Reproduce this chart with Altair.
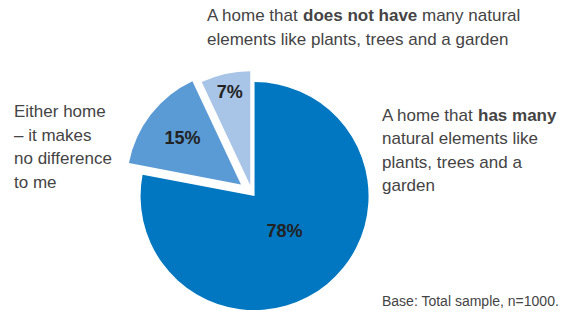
import math
import altair as alt
import pandas as pd

# ---- data ----
categories = [
    "A home that has many natural elements like plants, trees and a garden",
    "Either home – it makes no difference to me",
    "A home that does not have many natural elements like plants, trees and a garden",
]
shares = [78, 15, 7]
pct_labels = ["78%", "15%", "7%"]

# ---- styles ----
colors = ["#0077C0", "#5B9BD5", "#A8C4E7"]
explode = [4, 14, 8]
label_radius = [47, 74, 94]
TOP = 8  # extra top padding
CX, CY, R = 244, 185 - TOP, 114
FONT = "Liberation Sans"
TXT = "#444444"

df = pd.DataFrame({
    "category": categories,
    "share": shares,
    "label": pct_labels,
    "order": list(range(len(shares))),
    "explode": explode,
    "label_r": label_radius,
})

theta_scale = alt.Scale(domain=[0, 100], range=[0, 2 * math.pi])

base = (
    alt.Chart(df)
    .transform_window(cum="sum(share)", sort=[alt.SortField("order")], frame=[None, 0])
    .transform_calculate(
        start="datum.cum - datum.share",
        mid="datum.cum - datum.share / 2",
        ang="(datum.cum - datum.share / 2) / 100 * 2 * PI",
    )
    .transform_calculate(
        px=f"{CX} + datum.explode * sin(datum.ang)",
        py=f"{CY} - datum.explode * cos(datum.ang)",
    )
)

arcs = base.mark_arc(radius=R).encode(
    theta=alt.Theta("start:Q", scale=theta_scale, stack=None),
    theta2="cum:Q",
    x=alt.X("px:Q", scale=None),
    y=alt.Y("py:Q", scale=None),
    color=alt.Color("category:N", scale=alt.Scale(domain=categories, range=colors), legend=None),
)

labels = base.mark_text(
    font=FONT, fontSize=18, fontWeight="bold", color="#222222", align="center", baseline="middle"
).encode(
    theta=alt.Theta("mid:Q", scale=theta_scale, stack=None),
    radius=alt.Radius("label_r:Q", scale=None),
    x=alt.X("px:Q", scale=None),
    y=alt.Y("py:Q", scale=None),
    text="label:N",
)

# ---- annotation texts ----
normal_seg = pd.DataFrame({
    "t": ["A home that", "many natural", "elements like plants, trees and a garden",
          "A home that"],
    "x": [199, 414, 199, 374],
    "y": [13 - TOP, 13 - TOP, 37 - TOP, 113 - TOP],
})
bold_seg = pd.DataFrame({
    "t": ["does not have", "has many"],
    "x": [295, 470],
    "y": [13 - TOP, 113 - TOP],
})
multi = pd.DataFrame({
    "t": [["natural elements like", "plants, trees and a", "garden"],
          ["Either home", "– it makes", "no difference", "to me"]],
    "x": [374, 6],
    "y": [136 - TOP, 109 - TOP],
})
base_note = pd.DataFrame({"t": ["Base: Total sample, n=1000."], "x": [374], "y": [298 - TOP]})

def txt(data, size=17, weight="normal", lh=23.5):
    return alt.Chart(data).mark_text(
        font=FONT, fontSize=size, fontWeight=weight, color=TXT,
        align="left", baseline="alphabetic", lineHeight=lh,
    ).encode(
        x=alt.X("x:Q", scale=None), y=alt.Y("y:Q", scale=None), text="t"
    )

chart = alt.layer(
    arcs, labels,
    txt(normal_seg), txt(bold_seg, weight="bold"), txt(multi), txt(base_note, size=14),
).properties(
    width=551, height=303 - TOP,
    padding={"left": 0, "top": TOP, "right": 0, "bottom": 0},
    autosize=alt.AutoSizeParams(type="none"),
).configure_view(stroke=None)

chart.save("out.html", embed_options={"renderer": "svg", "actions": False})
